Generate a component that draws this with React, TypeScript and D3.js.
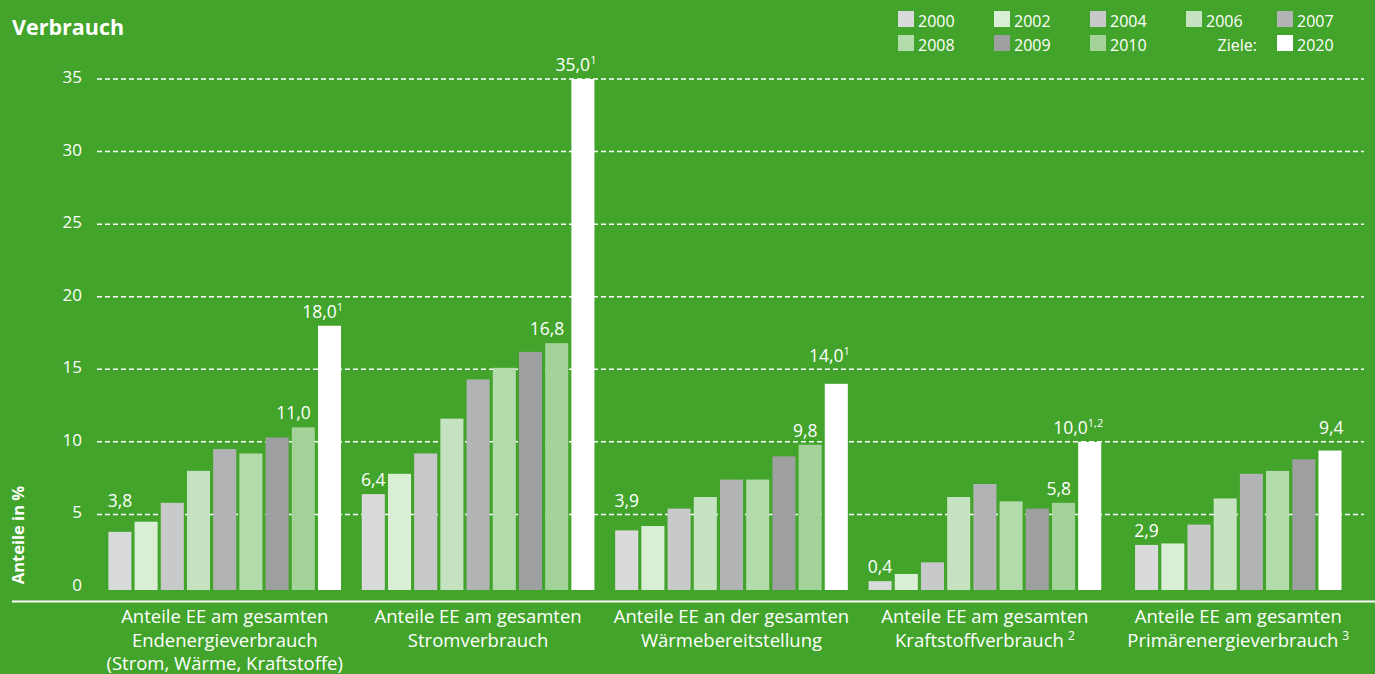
import React, { useRef, useEffect } from "react";
import * as d3 from "d3";

// years shown in every group, and their bar colours
const years = ["2000", "2002", "2004", "2006", "2007", "2008", "2009", "2010", "2020"];
const yearColors = ["#d9dadc", "#daeed6", "#c8c9cb", "#c5e3c0", "#b2b3b5", "#b3dbab", "#9e9fa1", "#a3d398", "#ffffff"];

const categories = [
  ["Anteile EE am gesamten", "Endenergieverbrauch", "(Strom, Wärme, Kraftstoffe)"],
  ["Anteile EE am gesamten", "Stromverbrauch"],
  ["Anteile EE an der gesamten", "Wärmebereitstellung"],
  ["Anteile EE am gesamten", "Kraftstoffverbrauch"],
  ["Anteile EE am gesamten", "Primärenergieverbrauch"],
];
const categoryNotes = ["", "", "", "2", "3"];

// values per year (same order as years), null = no bar
const endenergie = [3.8, 4.5, 5.8, 8.0, 9.5, 9.2, 10.3, 11.0, 18.0];
const strom = [6.4, 7.8, 9.2, 11.6, 14.3, 15.1, 16.2, 16.8, 35.0];
const waerme = [3.9, 4.2, 5.4, 6.2, 7.4, 7.4, 9.0, 9.8, 14.0];
const kraftstoff = [0.4, 0.9, 1.7, 6.2, 7.1, 5.9, 5.4, 5.8, 10.0];
const primaer = [2.9, 3.0, 4.3, 6.1, 7.8, 8.0, 8.8, null, 9.4];
const seriesByCategory = [endenergie, strom, waerme, kraftstoff, primaer];

const targetNotes = ["1", "1", "1", "1,2", ""];
const labelledYears = ["2000", "2010", "2020"];
const yTicks = [0, 5, 10, 15, 20, 25, 30, 35];

const width = 1375;
const height = 674;
const green = "#42a42b";
const font = "'Open Sans', 'Noto Sans', sans-serif";

const fmt = (v) => v.toFixed(1).replace(".", ",");

const Chart = () => {
  const svgRef = useRef(null);

  useEffect(() => {
    const svg = d3.select(svgRef.current);
    svg.selectAll("*").remove();

    svg.append("rect").attr("width", width).attr("height", height).attr("fill", green);

    const y = d3.scaleLinear().domain([0, 35]).range([587, 79]);
    const x0 = d3.scaleBand().domain(d3.range(categories.length)).range([98, 1365]);
    const step = 26.2;
    const pad = 0.12;
    const gridTicks = yTicks.filter((t) => t > 0);

    // keep value labels off the dashed gridlines
    const labelBase = (v) => {
      let b = y(v) - 8;
      gridTicks.forEach((t) => {
        const gy = y(t);
        if (gy > b - 14 && gy < b + 2) b = gy - 7.5;
      });
      return b;
    };

    // title
    svg
      .append("text")
      .attr("x", 12)
      .attr("y", 35)
      .attr("fill", "#fff")
      .attr("font-family", font)
      .attr("font-weight", "bold")
      .attr("font-size", 21.5)
      .text("Verbrauch");

    // y axis title
    svg
      .append("text")
      .attr("transform", "translate(24,535) rotate(-90)")
      .attr("text-anchor", "middle")
      .attr("fill", "#fff")
      .attr("font-family", font)
      .attr("font-weight", "bold")
      .attr("font-size", 16.5)
      .text("Anteile in %");

    // gridlines
    svg
      .append("g")
      .selectAll("line")
      .data(gridTicks)
      .enter()
      .append("line")
      .attr("x1", 97)
      .attr("x2", 1364)
      .attr("y1", (d) => y(d))
      .attr("y2", (d) => y(d))
      .attr("stroke", "#fff")
      .attr("stroke-width", 1.5)
      .attr("stroke-dasharray", "5,3");

    // tick labels
    svg
      .append("g")
      .selectAll("text")
      .data(yTicks)
      .enter()
      .append("text")
      .attr("x", 82)
      .attr("y", (d) => y(d) + 4)
      .attr("text-anchor", "end")
      .attr("fill", "#fff")
      .attr("font-family", font)
      .attr("font-size", 17)
      .text((d) => d);

    // bars + labels
    seriesByCategory.forEach((vals, ci) => {
      const present = years.filter((yr, i) => vals[i] != null);
      const center = x0(ci) + x0.bandwidth() / 2;
      const span = step * (present.length - pad);
      const x1 = d3
        .scaleBand()
        .domain(present)
        .range([center - span / 2, center + span / 2])
        .paddingInner(pad);

      const rows = present.map((yr) => {
        const i = years.indexOf(yr);
        return { year: yr, value: vals[i], color: yearColors[i] };
      });

      const g = svg.append("g");
      g.selectAll("rect")
        .data(rows)
        .enter()
        .append("rect")
        .attr("x", (d) => x1(d.year))
        .attr("y", (d) => y(d.value))
        .attr("width", x1.bandwidth())
        .attr("height", (d) => y(0) + 3 - y(d.value))
        .attr("fill", (d) => d.color);

      rows
        .filter((d) => labelledYears.includes(d.year))
        .forEach((d) => {
          const bx = x1(d.year);
          const bw = x1.bandwidth();
          const t = g
            .append("text")
            .attr("y", labelBase(d.value))
            .attr("fill", "#fff")
            .attr("font-family", font)
            .attr("font-size", 17.5);
          if (d.year === "2000") {
            t.attr("x", bx + bw / 2).attr("text-anchor", "middle").text(fmt(d.value));
          } else if (d.year === "2010") {
            t.attr("x", bx + bw - 4).attr("text-anchor", "end").text(fmt(d.value));
          } else {
            t.attr("x", bx + bw + 2).attr("text-anchor", "end");
            t.append("tspan").text(fmt(d.value));
            if (targetNotes[ci]) {
              t.append("tspan").attr("font-size", 11).attr("dy", -7).text(targetNotes[ci]);
            }
          }
        });

      // category label
      const lab = svg
        .append("text")
        .attr("text-anchor", "middle")
        .attr("fill", "#fff")
        .attr("font-family", font)
        .attr("font-size", 18.5);
      categories[ci].forEach((line, li) => {
        const ts = lab
          .append("tspan")
          .attr("x", center)
          .attr("y", 623 + li * 23.5)
          .text(line);
        if (li === categories[ci].length - 1 && categoryNotes[ci]) {
          ts.append("tspan").attr("dx", 4).attr("dy", -7).attr("font-size", 12).text(categoryNotes[ci]);
        }
      });
    });

    // x axis line
    svg
      .append("line")
      .attr("x1", 12)
      .attr("x2", width)
      .attr("y1", 601.5)
      .attr("y2", 601.5)
      .attr("stroke", "#fff")
      .attr("stroke-width", 2);

    // legend
    const cols = [898, 994, 1090, 1186, 1277];
    const legendItems = years.map((yr, i) => ({
      year: yr,
      color: yearColors[i],
      col: i < 5 ? i : i < 8 ? i - 5 : 4,
      row: i < 5 ? 0 : 1,
    }));
    const lg = svg.append("g");
    legendItems.forEach((d) => {
      const lx = cols[d.col];
      const ly = 11 + d.row * 24;
      lg.append("rect").attr("x", lx).attr("y", ly).attr("width", 16).attr("height", 16).attr("fill", d.color);
      lg.append("text")
        .attr("x", lx + 20)
        .attr("y", ly + 15.5)
        .attr("fill", "#fff")
        .attr("font-family", font)
        .attr("font-size", 16)
        .text(d.year);
    });
    lg.append("text")
      .attr("x", cols[4] - 20)
      .attr("y", 35 + 15.5)
      .attr("text-anchor", "end")
      .attr("fill", "#fff")
      .attr("font-family", font)
      .attr("font-size", 16)
      .text("Ziele:");
  }, []);

  return (
    <svg
      ref={svgRef}
      width={width}
      height={height}
      style={{ position: "absolute", left: 0, top: 0, display: "block" }}
    ></svg>
  );
};

export default function App() {
  return <Chart />;
}
